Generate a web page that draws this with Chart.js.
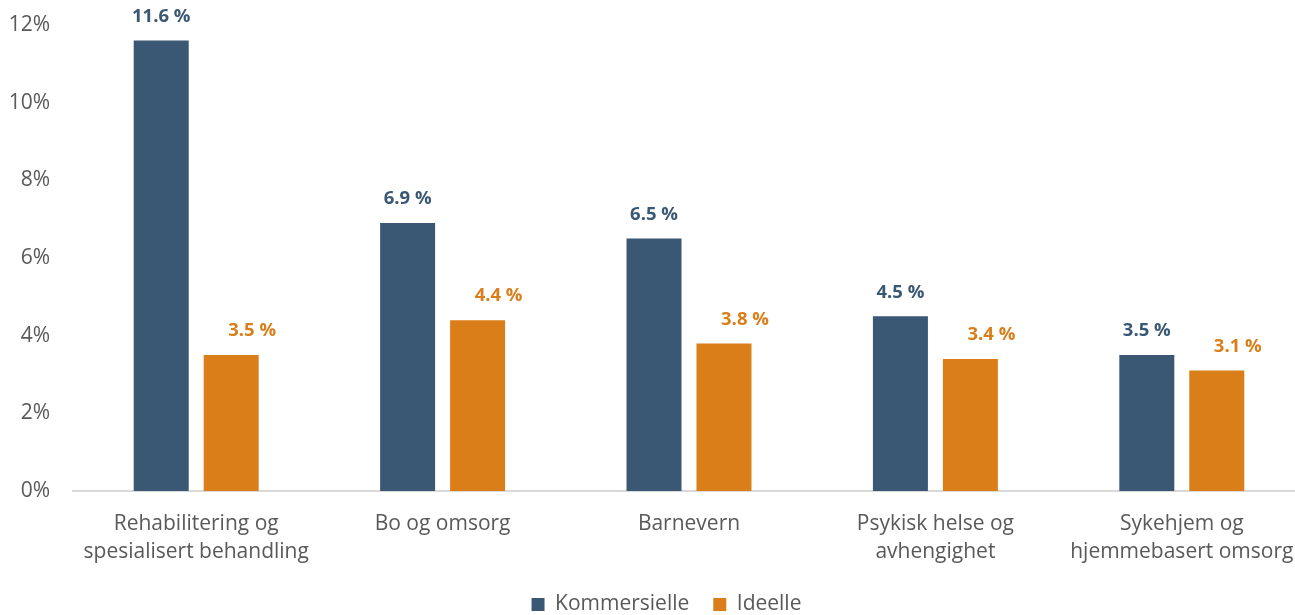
<!DOCTYPE html>
<html>
<head>
<meta charset="utf-8">
<script src="https://cdn.jsdelivr.net/npm/chart.js@4/dist/chart.umd.min.js"></script>
<style>
  html, body { margin: 0; padding: 0; background: #fff; overflow: hidden; }
  #wrap { width: 1305px; height: 615px; position: relative; }
</style>
</head>
<body>
<div id="wrap"><canvas id="myChart"></canvas></div>
<script>
const canvas = document.getElementById('myChart')

// data
const categories = [
    ['Rehabilitering og', 'spesialisert behandling'],
    'Bo og omsorg',
    'Barnevern',
    ['Psykisk helse og', 'avhengighet'],
    ['Sykehjem og', 'hjemmebasert omsorg']
]
const kommersielle = [11.6, 6.9, 6.5, 4.5, 3.5]
const ideelle = [3.5, 4.4, 3.8, 3.4, 3.1]
const yTicks = [0, 2, 4, 6, 8, 10, 12]

const blue = '#3a5774'
const orange = '#d97e18'
const grey = '#595959'
const font = "'Open Sans', 'Liberation Sans', sans-serif"

// labels above the bars
const valueLabels = {
    id: 'valueLabels',
    afterDatasetsDraw(chart) {
        const ctx = chart.ctx
        ctx.save()
        ctx.font = `bold 18.5px ${font}`
        ctx.textAlign = 'center'
        ctx.textBaseline = 'middle'
        chart.data.datasets.forEach((ds, i) => {
            const meta = chart.getDatasetMeta(i)
            ctx.fillStyle = ds.backgroundColor
            meta.data.forEach((bar, j) => {
                ctx.fillText(ds.data[j].toFixed(1) + ' %', bar.x + ds.labelShift, bar.y - 24)
            })
        })
        ctx.restore()
    }
}

// legend in the original is a little right of centre
const legendShift = {
    id: 'legendShift',
    afterLayout(chart) {
        chart.legend.left += 14
        chart.legend.right += 14
    }
}

new Chart(canvas, {
    type: 'bar',
    data: {
        labels: categories,
        datasets: [
            { label: 'Kommersielle', data: kommersielle, backgroundColor: blue, labelShift: 0,
              categoryPercentage: 0.568, barPercentage: 0.786 },
            { label: 'Ideelle', data: ideelle, backgroundColor: orange, labelShift: 21,
              categoryPercentage: 0.568, barPercentage: 0.786 }
        ]
    },
    options: {
        responsive: true,
        maintainAspectRatio: false,
        animation: false,
        // legend sits a bit lower than chart.js puts it
        layout: { padding: { top: 25, right: 0, left: 0, bottom: -10 } },
        plugins: {
            tooltip: { enabled: false },
            legend: {
                position: 'bottom',
                labels: {
                    color: grey,
                    font: { family: font, size: 21 },
                    boxWidth: 13,
                    boxHeight: 13,
                    padding: 24
                }
            }
        },
        scales: {
            x: {
                afterFit(scale) {
                    scale.height = 79
                    scale.paddingLeft = 0
                    scale.paddingRight = 0
                },
                grid: { display: false, drawTicks: false },
                border: { display: true, color: '#d9d9d9', width: 2 },
                ticks: {
                    color: grey,
                    font: { family: font, size: 21, lineHeight: 1.33 },
                    padding: 19,
                    maxRotation: 0,
                    autoSkip: false
                }
            },
            y: {
                min: 0,
                max: 12,
                afterFit(scale) {
                    scale.width = 73
                    scale.paddingTop = 0
                    scale.paddingBottom = 0
                },
                afterBuildTicks(scale) { scale.ticks = yTicks.map(v => ({ value: v })) },
                grid: { display: false, drawTicks: false },
                border: { display: false },
                ticks: {
                    color: grey,
                    font: { family: font, size: 21 },
                    padding: 23,
                    callback: v => v + '%'
                }
            }
        }
    },
    plugins: [valueLabels, legendShift]
})
</script>
</body>
</html>
